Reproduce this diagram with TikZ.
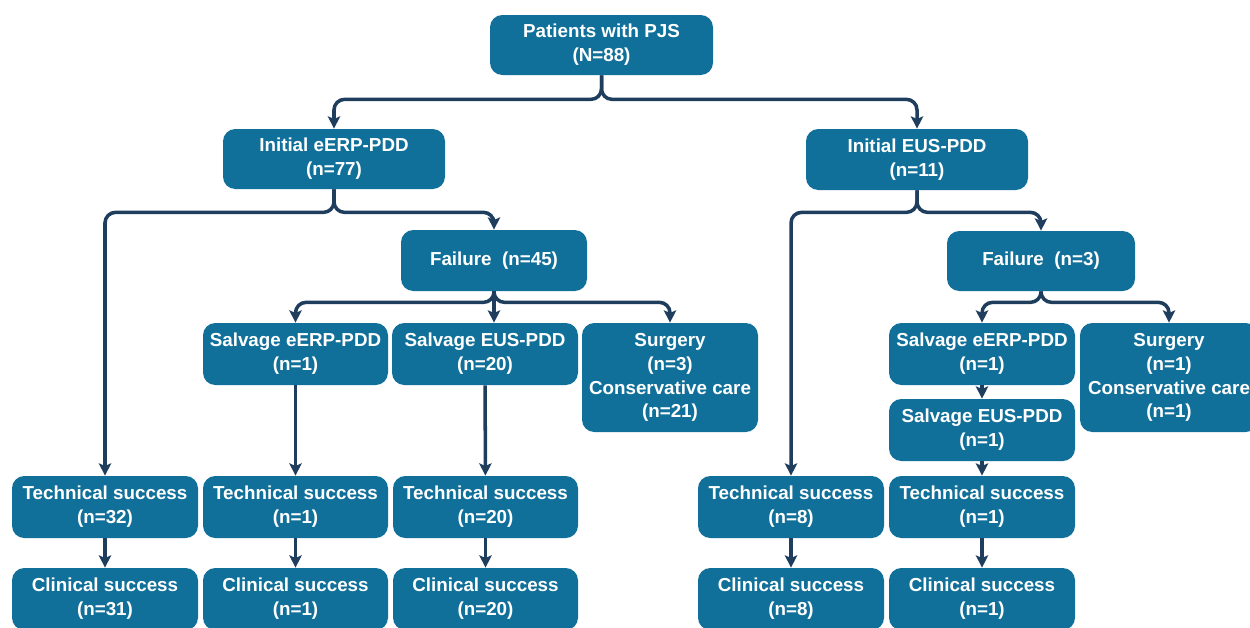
\documentclass[tikz,border=0pt]{standalone}
\usepackage{fontspec}
\setmainfont{Liberation Sans}
\usetikzlibrary{arrows.meta}
\definecolor{boxblue}{RGB}{17,112,153}
\definecolor{arrowblue}{RGB}{31,62,94}
\tikzset{
  box/.style={fill=boxblue, draw=none, rounded corners=7pt, text=white,
    font=\fontsize{10.7}{13.6}\selectfont\bfseries, align=center, inner sep=0pt},
  arr/.style={draw=arrowblue, line width=2pt, rounded corners=6pt,
    -{Stealth[length=7pt,width=7pt,inset=1.5pt]}}
}
\newcommand{\mybox}[6]{%
  \node[box, minimum width={(#4-#2)*0.02cm}, minimum height={(#5-#3)*0.02cm}]
    (#1) at ({(#2+#4)/2},{(#3+#5)/2}) {#6};}
\begin{document}
\begin{tikzpicture}[x=0.02cm,y=-0.02cm]
\useasboundingbox (0,0) rectangle (1250,627);
\clip (0,0) rectangle (1250,627);
\mybox{P}{490}{15}{713}{75}{Patients with PJS\\(N=88)}
\mybox{IE}{223}{129}{445}{189}{Initial eERP-PDD\\(n=77)}
\mybox{IU}{806}{129}{1028}{190}{Initial EUS-PDD\\(n=11)}
\mybox{FA}{401}{230}{587}{291}{Failure~ (n=45)}
\mybox{FB}{947}{231}{1135}{291}{Failure~ (n=3)}
\mybox{SEA}{203}{323}{388}{385}{Salvage eERP-PDD\\(n=1)}
\mybox{SUA}{392}{323}{578}{385}{Salvage EUS-PDD\\(n=20)}
\mybox{SGA}{582}{323}{758}{432}{Surgery\\(n=3)\\Conservative care\\(n=21)}
\mybox{SEB}{889}{323}{1075}{385}{Salvage eERP-PDD\\(n=1)}
\mybox{SGB}{1080}{323}{1258}{432}{Surgery\\(n=1)\\Conservative care\\(n=1)}
\mybox{SUB}{889}{399}{1075}{461}{Salvage EUS-PDD\\(n=1)}
\mybox{TA}{12}{476}{198}{538}{Technical success\\(n=32)}
\mybox{TB}{203}{476}{388}{538}{Technical success\\(n=1)}
\mybox{TC}{393}{476}{578}{538}{Technical success\\(n=20)}
\mybox{TD}{698}{476}{884}{538}{Technical success\\(n=8)}
\mybox{TE}{889}{476}{1075}{538}{Technical success\\(n=1)}
\mybox{CA}{12}{568}{198}{630}{Clinical success\\(n=31)}
\mybox{CB}{203}{568}{388}{630}{Clinical success\\(n=1)}
\mybox{CC}{393}{568}{578}{630}{Clinical success\\(n=20)}
\mybox{CD}{698}{568}{884}{630}{Clinical success\\(n=8)}
\mybox{CE}{889}{568}{1075}{630}{Clinical success\\(n=1)}
% connectors
\draw[arr] (P.south) -- ++(0,24) -| (IE.north);
\draw[arr] (P.south) -- ++(0,24) -| (IU.north);
\draw[arr] (IE.south) -- ++(0,23) -| (TA.north);
\draw[arr] (IE.south) -- ++(0,23) -| (FA.north);
\draw[arr] (IU.south) -- ++(0,22) -| (TD.north);
\draw[arr] (IU.south) -- ++(0,22) -| (FB.north);
\draw[arr] (FA.south) -- ++(0,11) -| (SEA.north);
\draw[arr] (FA.south) -- ++(0,11) -| (SGA.north);
\draw[arr] (FA.south) -- (FA.south |- SUA.north);
\draw[arr] (FB.south) -- ++(0,11) -| (SEB.north);
\draw[arr] (FB.south) -- ++(0,11) -| (SGB.north);
\draw[arr] (SEA) -- (TB);
\draw[arr] (SUA) -- (TC);
\draw[arr] (SEB) -- (SUB);
\draw[arr] (SUB) -- (TE);
\draw[arr] (TA) -- (CA);
\draw[arr] (TB) -- (CB);
\draw[arr] (TC) -- (CC);
\draw[arr] (TD) -- (CD);
\draw[arr] (TE) -- (CE);
\end{tikzpicture}
\end{document}
